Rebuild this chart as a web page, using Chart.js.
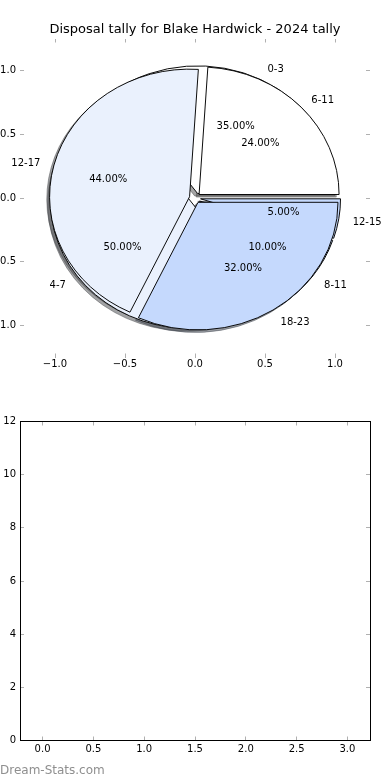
<!DOCTYPE html>
<html>
<head>
<meta charset="utf-8">
<title>Disposal tally</title>
<script src="https://cdn.jsdelivr.net/npm/chart.js@4.4.1/dist/chart.umd.min.js"></script>
<style>
    body { margin: 0; background: #fff; }
    #wrap { position: relative; width: 390px; height: 780px; overflow: hidden; }
    #wrap canvas { position: absolute; left: 0; top: 0; }
    #wrap #bottomChart { top: 390px; }
    #brand { position: absolute; left: 0; top: 763px; font: 12px "DejaVu Sans", sans-serif; line-height: 14px; color: #8f8f8f; }
</style>
</head>
<body>
<div id="wrap">
    <canvas id="pieAxes" width="390" height="390"></canvas>
    <canvas id="shadowA" width="390" height="390"></canvas>
    <canvas id="shadowB" width="390" height="390"></canvas>
    <canvas id="pieA" width="390" height="390"></canvas>
    <canvas id="pieB" width="390" height="390"></canvas>
    <canvas id="bottomChart" width="390" height="390"></canvas>
    <div id="brand">Dream-Stats.com</div>
</div>
<script>
// DADOS DO GRÁFICO
const chartTitle = 'Disposal tally for Blake Hardwick - 2024 tally';

// primeira pizza (fica por baixo)
const rangesA = ['0-3', '4-7', '8-11', '12-15'];
const valuesA = [35, 50, 10, 5];

// segunda pizza (desenhada por cima)
const rangesB = ['6-11', '12-17', '18-23'];
const valuesB = [24, 44, 32];

const pieTicks = [-1.0, -0.5, 0.0, 0.5, 1.0];
const bottomTicksX = [0.0, 0.5, 1.0, 1.5, 2.0, 2.5, 3.0];
const bottomTicksY = [0, 2, 4, 6, 8, 10, 12];

// estilo
const sliceColors = ['#ffffff', '#eaf1fd', '#c5d9fd', '#c5d9fd'];
const explode = 0.04;

Chart.defaults.font.family = '"DejaVu Sans", sans-serif';
Chart.defaults.font.size = 10;
Chart.defaults.color = '#000';

const tickMarks = { drawOnChartArea: false, drawTicks: true, tickLength: -4, color: '#b0b0b0', lineWidth: 1 };

function fmt1(v) {
    return (v < 0 ? '\u2212' : '') + Math.abs(v).toFixed(1);
}

function fixTicks(list) {
    return scale => { scale.ticks = list.map(v => ({ value: v })); };
}

// sombra do matplotlib: 30% da cor, meio transparente
function shadowOf(hex) {
    const n = parseInt(hex.slice(1), 16);
    const r = Math.round(((n >> 16) & 255) * 0.3), g = Math.round(((n >> 8) & 255) * 0.3), b = Math.round((n & 255) * 0.3);
    return `rgba(${r}, ${g}, ${b}, 0.5)`;
}

// EIXOS DA PIZZA (só os ticks, sem moldura)
const axesChart = new Chart(document.getElementById('pieAxes'), {
    type: 'scatter',
    data: { datasets: [] },
    options: {
        responsive: false,
        animation: false,
        events: [],
        layout: { padding: 0 },
        plugins: {
            legend: { display: false },
            tooltip: { enabled: false },
            title: {
                display: true,
                text: chartTitle,
                color: '#000',
                font: { size: 13, weight: 'normal' },
                padding: { top: 22.2, bottom: 0.7 }
            }
        },
        scales: {
            x: {
                type: 'linear', position: 'bottom', min: -1.25, max: 1.25,
                border: { display: false }, grid: tickMarks,
                afterBuildTicks: fixTicks(pieTicks),
                afterFit: s => { s.height = 32.5; },
                ticks: { padding: 5, autoSkip: false, maxRotation: 0, callback: fmt1 }
            },
            y: {
                type: 'linear', position: 'left', min: -1.25, max: 1.25,
                border: { display: false }, grid: tickMarks,
                afterBuildTicks: fixTicks(pieTicks),
                afterFit: s => { s.width = 20; },
                ticks: { padding: 8, autoSkip: false, callback: fmt1 }
            },
            x2: {
                type: 'linear', axis: 'x', position: 'top', min: -1.25, max: 1.25,
                border: { display: false }, grid: tickMarks,
                afterBuildTicks: fixTicks(pieTicks),
                afterFit: s => { s.height = 0; },
                ticks: { display: false }
            },
            y2: {
                type: 'linear', axis: 'y', position: 'right', min: -1.25, max: 1.25,
                border: { display: false }, grid: tickMarks,
                afterBuildTicks: fixTicks(pieTicks),
                afterFit: s => { s.width = 20; },
                ticks: { display: false }
            }
        }
    }
});

// geometria da pizza tirada das escalas
const xs = axesChart.scales.x;
const ys = axesChart.scales.y;
const cx = xs.getPixelForValue(0);
const cy = ys.getPixelForValue(0);
const radius = xs.getPixelForValue(1) - cx;
const squash = (cy - ys.getPixelForValue(1)) / radius;
const shadowDx = xs.getPixelForValue(-0.02) - cx;
const shadowDy = ys.getPixelForValue(-0.02) - cy;

// desenha cada fatia deslocada (explode) e achatada como no matplotlib
function sliceDrawer(dx, dy) {
    return {
        id: 'sliceDrawer',
        beforeDatasetsDraw(chart) {
            const ctx = chart.ctx;
            chart.getDatasetMeta(0).data.forEach(arc => {
                const mid = (arc.startAngle + arc.endAngle) / 2;
                ctx.save();
                ctx.translate(cx + dx, cy + dy);
                ctx.scale(1, squash);
                ctx.translate(Math.cos(mid) * explode * radius, Math.sin(mid) * explode * radius);
                ctx.translate(-arc.x, -arc.y);
                arc.draw(ctx);
                ctx.restore();
            });
            return false;
        }
    };
}

function makePie(id, labels, values, fills, strokes, dx, dy, extraPlugins) {
    return new Chart(document.getElementById(id), {
        type: 'pie',
        data: {
            labels: [...labels].reverse(),
            datasets: [{
                data: [...values].reverse(),
                backgroundColor: [...fills].reverse(),
                borderColor: [...strokes].reverse(),
                borderWidth: 1,
                borderJoinStyle: 'miter'
            }]
        },
        options: {
            responsive: false,
            animation: false,
            events: [],
            rotation: 90,
            radius: radius,
            plugins: { legend: { display: false }, tooltip: { enabled: false } }
        },
        plugins: [sliceDrawer(dx, dy)].concat(extraPlugins || [])
    });
}

const colorsA = sliceColors.slice(0, valuesA.length);
const colorsB = sliceColors.slice(0, valuesB.length);

makePie('shadowA', rangesA, valuesA, colorsA.map(shadowOf), colorsA.map(shadowOf), shadowDx, shadowDy);
makePie('shadowB', rangesB, valuesB, colorsB.map(shadowOf), colorsB.map(shadowOf), shadowDx, shadowDy);
const pieA = makePie('pieA', rangesA, valuesA, colorsA, colorsA.map(() => '#000'), 0, 0);

// textos das duas pizzas ficam por cima de todas as fatias
const sliceTexts = {
    id: 'sliceTexts',
    afterDraw(chart) {
        const ctx = chart.ctx;
        const nudge = 1.5; // centro da caixa do texto no matplotlib fica um pouco mais baixo
        ctx.save();
        ctx.font = '10px "DejaVu Sans", sans-serif';
        ctx.fillStyle = '#000';
        ctx.textBaseline = 'middle';
        [pieA, chart].forEach(pie => {
            const data = pie.data.datasets[0].data;
            const total = data.reduce((a, b) => a + b, 0);
            pie.getDatasetMeta(0).data.forEach((arc, i) => {
                const mid = (arc.startAngle + arc.endAngle) / 2;
                const c = Math.cos(mid), s = Math.sin(mid);
                const rl = (explode + 1.1) * radius;
                ctx.textAlign = c > 0 ? 'left' : 'right';
                ctx.fillText(pie.data.labels[i], cx + c * rl, cy + s * rl * squash + nudge);
                const rp = (explode + 0.6) * radius;
                ctx.textAlign = 'center';
                ctx.fillText((data[i] / total * 100).toFixed(2) + '%', cx + c * rp, cy + s * rp * squash + nudge);
            });
        });
        ctx.restore();
    }
};

makePie('pieB', rangesB, valuesB, colorsB, colorsB.map(() => '#000'), 0, 0, [sliceTexts]);

// SEGUNDO GRÁFICO (eixos vazios com moldura)
const frame = { display: true, color: '#000', width: 1 };

new Chart(document.getElementById('bottomChart'), {
    type: 'scatter',
    data: { datasets: [] },
    options: {
        responsive: false,
        animation: false,
        events: [],
        layout: { padding: 0 },
        plugins: { legend: { display: false }, tooltip: { enabled: false } },
        scales: {
            x: {
                type: 'linear', position: 'bottom', min: -0.222, max: 3.222,
                border: frame, grid: tickMarks,
                afterBuildTicks: fixTicks(bottomTicksX),
                afterFit: s => { s.height = 39.5; },
                ticks: { padding: 7, autoSkip: false, maxRotation: 0, callback: v => v.toFixed(1) }
            },
            y: {
                type: 'linear', position: 'left', min: 0, max: 12,
                border: frame, grid: tickMarks,
                afterBuildTicks: fixTicks(bottomTicksY),
                afterFit: s => { s.width = 20; },
                ticks: { padding: 8, autoSkip: false, callback: v => String(v) }
            },
            x2: {
                type: 'linear', axis: 'x', position: 'top', min: -0.222, max: 3.222,
                border: frame, grid: tickMarks,
                afterBuildTicks: fixTicks(bottomTicksX),
                afterFit: s => { s.height = 31.5; },
                ticks: { display: false }
            },
            y2: {
                type: 'linear', axis: 'y', position: 'right', min: 0, max: 12,
                border: frame, grid: tickMarks,
                afterBuildTicks: fixTicks(bottomTicksY),
                afterFit: s => { s.width = 20; },
                ticks: { display: false }
            }
        }
    }
});
</script>
</body>
</html>
